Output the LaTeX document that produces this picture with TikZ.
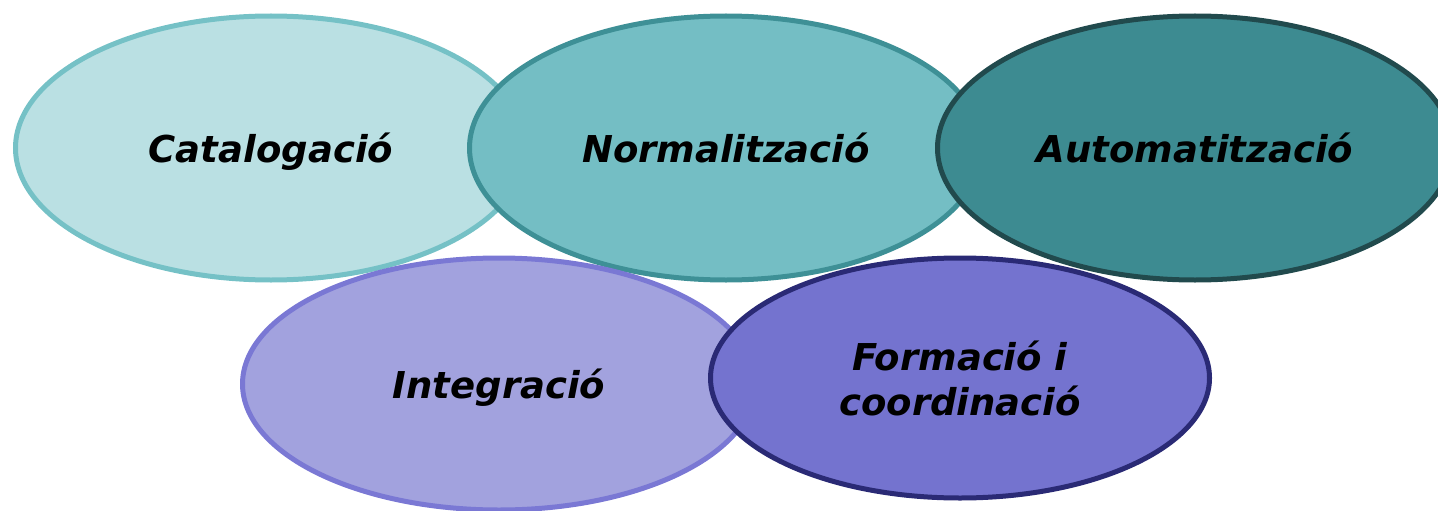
\documentclass[tikz,border=0pt]{standalone}
\usepackage{fontspec}
\setmainfont{DejaVu Sans}
\usetikzlibrary{shapes.geometric}
\definecolor{catfill}{HTML}{BAE0E3}
\definecolor{catdraw}{HTML}{75C1C6}
\definecolor{normfill}{HTML}{74BEC4}
\definecolor{normdraw}{HTML}{3E9096}
\definecolor{autofill}{HTML}{3D8B91}
\definecolor{autodraw}{HTML}{214A4D}
\definecolor{intfill}{HTML}{A2A2DE}
\definecolor{intdraw}{HTML}{7A78D4}
\definecolor{formfill}{HTML}{7473CF}
\definecolor{formdraw}{HTML}{2A2A75}
\tikzset{
  blob/.style={ellipse, line width=5pt, inner sep=0pt, align=center,
    font=\fontsize{37}{45}\selectfont\bfseries\itshape, text=black},
  oneline/.style={text depth=0pt}
}
\begin{document}
\begin{tikzpicture}[x=1pt,y=-1pt]
\useasboundingbox (0,0) rectangle (1438,511);
\clip (0,0) rectangle (1438,511);
\node[blob, oneline, fill=catfill, draw=catdraw, minimum width=511pt, minimum height=264pt] (cat) at (271,148) {Catalogació};
\node[blob, oneline, fill=normfill, draw=normdraw, minimum width=513pt, minimum height=264pt] (norm) at (726,148) {Normalització};
\node[blob, oneline, fill=autofill, draw=autodraw, minimum width=515pt, minimum height=264pt] (auto) at (1195,148) {Automatització};
\node[blob, oneline, fill=intfill, draw=intdraw, minimum width=513pt, minimum height=252pt] (integ) at (499,384) {Integració};
\node[blob, fill=formfill, draw=formdraw, minimum width=499pt, minimum height=240pt] (form) at (960,378) {Formació i\\coordinació};
\end{tikzpicture}
\end{document}
